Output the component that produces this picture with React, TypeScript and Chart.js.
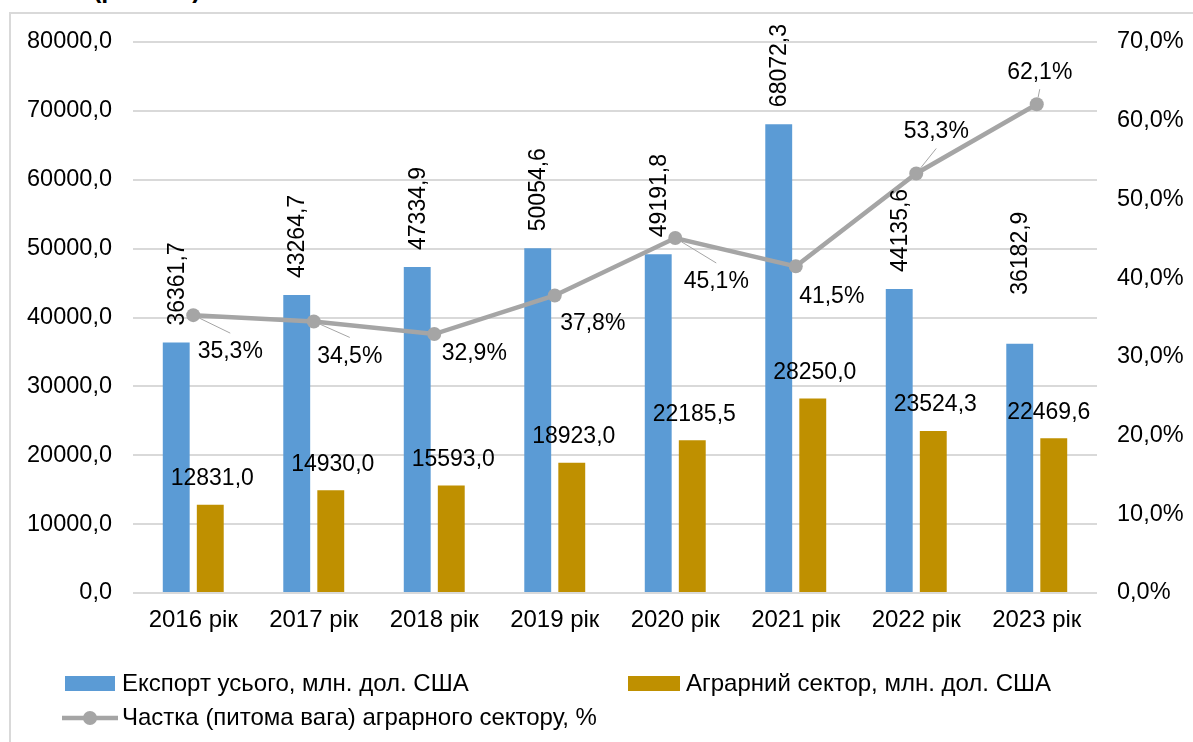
import React, { useEffect, useRef } from 'react';
import { Chart, registerables } from 'chart.js';

Chart.register(...registerables);

// ---------- data ----------
const categories = ['2016 рік', '2017 рік', '2018 рік', '2019 рік', '2020 рік', '2021 рік', '2022 рік', '2023 рік'];
const totalExport = [36361.7, 43264.7, 47334.9, 50054.6, 49191.8, 68072.3, 44135.6, 36182.9];
const agrarianExport = [12831.0, 14930.0, 15593.0, 18923.0, 22185.5, 28250.0, 23524.3, 22469.6];
const agrarianShare = [35.3, 34.5, 32.9, 37.8, 45.1, 41.5, 53.3, 62.1];
const seriesNames = [
  'Експорт усього, млн. дол. США',
  'Аграрний сектор, млн. дол. США',
  'Частка (питома вага) аграрного сектору, %',
];
const leftAxis = { min: 0, max: 80000, step: 10000 };
const rightAxis = { min: 0, max: 70, step: 10 };

// ---------- styling / label placement ----------
const FONT = "'Liberation Sans', Arial, Helvetica, sans-serif";
const FS_LABEL = 23;
const FS_TICK_Y = 23.5;
const FS_TICK_X = 24;
const FS_LEGEND = 24;
const BLUE = '#5B9BD5';
const GOLD = '#BF9000';
const GREY = '#A5A5A5';
// extra lift of the rotated total labels (px)
const totalLabelLift = [0, 0, 0, 0, 0, 0, 0, 32];
// share label centre offset from point [dx, dy, leader]
const shareLabelPos: [number, number, boolean][] = [
  [37, 37, true],
  [36, 35, true],
  [40, 20, false],
  [38, 28, false],
  [41, 44, true],
  [36, 30, false],
  [20, -42, true],
  [3, -32, true],
];

const fmt = (v: number, d = 1) => v.toFixed(d).replace('.', ',');

const labelPlugin = {
  id: 'valueLabels',
  afterDatasetsDraw(chart: any) {
    const ctx = chart.ctx as CanvasRenderingContext2D;
    ctx.save();
    ctx.font = `${FS_LABEL}px ${FONT}`;
    ctx.fillStyle = '#000';

    // total export labels (rotated)
    const m0 = chart.getDatasetMeta(0);
    m0.data.forEach((bar: any, i: number) => {
      ctx.save();
      ctx.translate(bar.x + 1, bar.y - 17 - totalLabelLift[i]);
      ctx.rotate(-Math.PI / 2);
      ctx.textAlign = 'left';
      ctx.textBaseline = 'middle';
      ctx.fillText(fmt(totalExport[i]), 0, 0);
      ctx.restore();
    });

    // agrarian labels
    const m1 = chart.getDatasetMeta(1);
    m1.data.forEach((bar: any, i: number) => {
      ctx.textAlign = 'center';
      ctx.textBaseline = 'middle';
      const dx = i === 7 ? -5 : 2;
      ctx.fillText(fmt(agrarianExport[i]), bar.x + dx, bar.y - 26);
    });

    // share labels with leader lines
    const m2 = chart.getDatasetMeta(2);
    m2.data.forEach((pt: any, i: number) => {
      const [dx, dy, leader] = shareLabelPos[i];
      const cx = pt.x + dx;
      const cy = pt.y + dy;
      if (leader) {
        const ex = cx;
        const ey = dy > 0 ? cy - 19 : cy + 17;
        const ang = Math.atan2(ey - pt.y, ex - pt.x);
        ctx.beginPath();
        ctx.strokeStyle = GREY;
        ctx.lineWidth = 1;
        ctx.moveTo(pt.x + Math.cos(ang) * 7, pt.y + Math.sin(ang) * 7);
        ctx.lineTo(ex, ey);
        ctx.stroke();
      }
      ctx.textAlign = 'center';
      ctx.textBaseline = 'middle';
      ctx.fillText(fmt(agrarianShare[i]) + '%', cx, cy);
    });
    ctx.restore();
  },
  afterDraw(chart: any) {
    const ctx = chart.ctx as CanvasRenderingContext2D;
    ctx.save();
    ctx.font = `${FS_LEGEND}px ${FONT}`;
    ctx.fillStyle = '#000';
    ctx.textAlign = 'left';
    ctx.textBaseline = 'middle';
    // row 1
    ctx.fillStyle = BLUE;
    ctx.fillRect(65, 676, 50, 15);
    ctx.fillStyle = '#000';
    ctx.fillText(seriesNames[0], 122, 684);
    ctx.fillStyle = GOLD;
    ctx.fillRect(628, 676, 52, 15);
    ctx.fillStyle = '#000';
    ctx.fillText(seriesNames[1], 686, 684);
    // row 2
    ctx.strokeStyle = GREY;
    ctx.lineWidth = 4.5;
    ctx.beginPath();
    ctx.moveTo(62, 718);
    ctx.lineTo(118, 718);
    ctx.stroke();
    ctx.fillStyle = GREY;
    ctx.beginPath();
    ctx.arc(90, 718, 7, 0, Math.PI * 2);
    ctx.fill();
    ctx.fillStyle = '#000';
    ctx.fillText(seriesNames[2], 122, 718);
    ctx.restore();
  },
};

export default function App() {
  const ref = useRef<HTMLCanvasElement | null>(null);

  useEffect(() => {
    if (!ref.current) return;
    Chart.defaults.font.family = FONT;
    const chart = new Chart(ref.current, {
      type: 'bar',
      data: {
        labels: categories,
        datasets: [
          {
            type: 'bar',
            label: seriesNames[0],
            data: totalExport,
            backgroundColor: BLUE,
            borderWidth: 0,
            yAxisID: 'y',
            order: 2,
            categoryPercentage: 0.565,
            barPercentage: 0.79,
          },
          {
            type: 'bar',
            label: seriesNames[1],
            data: agrarianExport,
            backgroundColor: GOLD,
            borderWidth: 0,
            yAxisID: 'y',
            order: 2,
            categoryPercentage: 0.565,
            barPercentage: 0.79,
          },
          {
            type: 'line',
            label: seriesNames[2],
            data: agrarianShare,
            borderColor: GREY,
            backgroundColor: GREY,
            borderWidth: 4.5,
            pointRadius: 7,
            pointBackgroundColor: GREY,
            pointBorderColor: GREY,
            pointBorderWidth: 0,
            tension: 0,
            yAxisID: 'y1',
            order: 1,
          } as any,
        ],
      },
      options: {
        responsive: false,
        animation: false,
        layout: { padding: { top: 42, left: 0, right: 0, bottom: 0 } },
        plugins: {
          legend: { display: false },
          tooltip: { enabled: false },
          title: { display: false },
        },
        scales: {
          x: {
            grid: { display: false, drawTicks: false },
            border: { display: false },
            ticks: {
              color: '#000',
              font: { size: FS_TICK_X, family: FONT },
              padding: 13,
              maxRotation: 0,
              autoSkip: false,
            },
            afterFit: (s: any) => {
              s.height = 149;
            },
          },
          y: {
            position: 'left',
            min: leftAxis.min,
            max: leftAxis.max,
            ticks: {
              stepSize: leftAxis.step,
              color: '#000',
              font: { size: FS_TICK_Y, family: FONT },
              padding: 21,
              callback: (v: any) => fmt(Number(v)),
            },
            grid: { color: '#D9D9D9', lineWidth: 2, drawTicks: false },
            border: { display: false },
            afterFit: (s: any) => {
              s.width = 133;
            },
          },
          y1: {
            position: 'right',
            min: rightAxis.min,
            max: rightAxis.max,
            ticks: {
              stepSize: rightAxis.step,
              color: '#000',
              font: { size: FS_TICK_Y, family: FONT },
              padding: 20,
              callback: (v: any) => fmt(Number(v)) + '%',
            },
            grid: { display: false, drawTicks: false },
            border: { display: false },
            afterFit: (s: any) => {
              s.width = 96;
            },
          },
        },
      } as any,
      plugins: [labelPlugin],
    });
    return () => chart.destroy();
  }, []);

  return (
    <div
      style={{
        position: 'fixed',
        left: 0,
        top: 0,
        width: 1193,
        height: 742,
        overflow: 'hidden',
        background: '#fff',
      }}
    >
      <div
        style={{
          position: 'absolute',
          left: 93,
          top: -23,
          fontFamily: FONT,
          fontWeight: 'bold',
          fontSize: 25,
          lineHeight: '24px',
          whiteSpace: 'nowrap',
        }}
      >
        (роками)
      </div>
      <div
        style={{
          position: 'absolute',
          left: 9,
          top: 12,
          width: 1400,
          height: 900,
          borderLeft: '2px solid #D9D9D9',
          borderTop: '2px solid #D9D9D9',
          boxSizing: 'border-box',
        }}
      />
      <canvas
        ref={ref}
        width={1193}
        height={742}
        style={{ position: 'absolute', left: 0, top: 0, display: 'block' }}
      />
    </div>
  );
}
